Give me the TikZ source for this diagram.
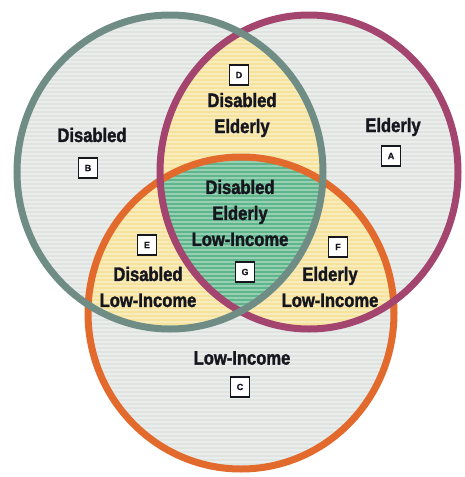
\documentclass[tikz,border=0pt]{standalone}
\usepackage{fontspec}
\newfontfamily\vennfont[FakeStretch=0.85, RawFeature={embolden=1.6}]{Liberation Sans Bold}
\newfontfamily\boxfont[RawFeature={embolden=0.8}]{Liberation Sans Bold}

\definecolor{basegray}{HTML}{DFE4E1}
\definecolor{pairyellow}{HTML}{F5E39C}
\definecolor{tripgreen}{HTML}{5FB68B}
\definecolor{disline}{HTML}{6F8D84}
\definecolor{eldline}{HTML}{A3456E}
\definecolor{lowline}{HTML}{E26A2C}
\definecolor{inkdark}{HTML}{16161F}

% the three sets
\def\disset{(170,172) ellipse [x radius=153, y radius=157]}
\def\eldset{(309,172) ellipse [x radius=149, y radius=157]}
\def\lowset{(241,313) ellipse [x radius=153, y radius=156]}

\begin{document}
\begin{tikzpicture}[x=1pt, y=-1pt,
    setlabel/.style={text=inkdark, align=center, font=\vennfont\fontsize{19.5}{26}\selectfont},
    letterbox/.style={draw=inkdark, fill=white, line width=1.2pt, minimum width=19pt, minimum height=20pt, inner sep=0pt, text=inkdark, font=\boxfont\fontsize{9}{9}\selectfont}]
    \useasboundingbox (0,0) rectangle (464,477);

    % plain regions
    \fill[basegray] \disset;
    \fill[basegray] \eldset;
    \fill[basegray] \lowset;

    % pairs
    \begin{scope}
        \clip \disset;
        \fill[pairyellow] \eldset;
        \fill[pairyellow] \lowset;
    \end{scope}
    \begin{scope}
        \clip \eldset;
        \fill[pairyellow] \lowset;
    \end{scope}

    % all three
    \begin{scope}
        \clip \disset;
        \clip \eldset;
        \fill[tripgreen] \lowset;
    \end{scope}

    % stripes
    \foreach \y in {2,6,...,476}
        \draw[white, opacity=0.35, line width=1.6pt] (0,\y) -- (464,\y);

    \draw[lowline, line width=7pt] \lowset;
    \draw[eldline, line width=7pt] \eldset;
    \draw[disline, line width=7pt] \disset;

    %\draw[red] (0,0) grid[step=50] (464,477);

    \node[setlabel] (disabled) at (92,135) {Disabled};
    \node[setlabel] (elderly) at (393,127) {Elderly};
    \node[setlabel] (lowincome) at (242,358) {Low-Income};
    \node[setlabel] (disEld) at (242,115) {Disabled\\Elderly};
    \node[setlabel] (disLow) at (148,287) {Disabled\\Low-Income};
    \node[setlabel] (eldLow) at (330,287) {Elderly\\Low-Income};
    \node[setlabel] (allThree) at (240,213) {Disabled\\Elderly\\Low-Income};

    \node[letterbox] (boxA) at (391,156) {A};
    \node[letterbox] (boxB) at (88,168) {B};
    \node[letterbox] (boxC) at (240,387) {C};
    \node[letterbox] (boxD) at (239,75) {D};
    \node[letterbox] (boxE) at (147,245) {E};
    \node[letterbox] (boxF) at (338,247) {F};
    \node[letterbox] (boxG) at (245,272) {G};
\end{tikzpicture}
\end{document}
